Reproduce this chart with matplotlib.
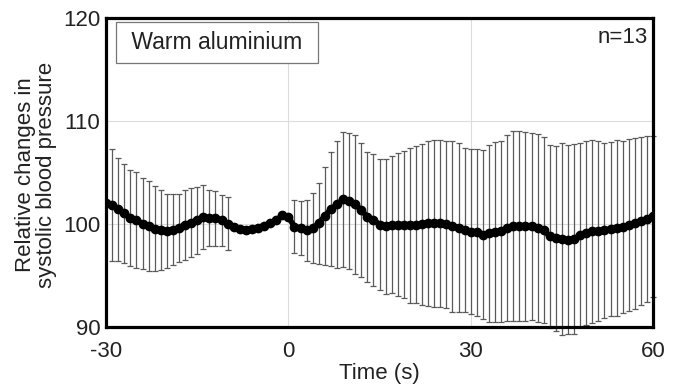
import numpy as np
import matplotlib.pyplot as plt

plt.rcParams['font.family'] = ['Liberation Sans', 'DejaVu Sans']
plt.rcParams['axes.unicode_minus'] = False
plt.rcParams['text.color'] = '#222222'
plt.rcParams['xtick.color'] = '#222222'
plt.rcParams['ytick.color'] = '#222222'
plt.rcParams['axes.labelcolor'] = '#222222'

# time points (s) of the mean curve
time = np.arange(-30, 61)
mean_bp = [
    102.0, 101.85, 101.45, 101.05, 100.6, 100.4, 100.05, 99.8, 99.55, 99.45,
    99.3, 99.45, 99.65, 99.95, 100.15, 100.35, 100.65, 100.6, 100.55, 100.35,
    100.05, 99.75, 99.5, 99.45, 99.55, 99.65, 99.85, 100.1, 100.35, 100.85,
    100.7, 99.75, 99.6, 99.4, 99.6, 100.06, 100.8, 101.45, 101.9, 102.4,
    102.25, 101.9, 101.35, 100.7, 100.4, 99.95, 99.8, 99.95, 99.93, 99.95,
    99.86, 99.94, 99.96, 100.07, 100.07, 100.07, 99.96, 99.8, 99.66, 99.4,
    99.25, 99.2, 98.96, 99.1, 99.2, 99.3, 99.63, 99.84, 99.84, 99.8,
    99.77, 99.63, 99.42, 98.8, 98.6, 98.55, 98.5, 98.55, 98.95, 99.15,
    99.3, 99.35, 99.4, 99.53, 99.6, 99.7, 99.9, 100.1, 100.3, 100.5,
    100.75,
]

# standard deviation at the points that carry an error bar
sd_before = [5.4, 5.0, 4.8, 4.65, 4.7, 4.45, 4.37, 4.1, 3.9, 3.6,
             3.45, 3.3, 3.4, 3.35, 3.25, 3.1, 2.75, 2.65, 2.5, 2.55]   # -29..-10
sd_after = [2.55, 2.6, 2.98, 3.37, 3.94, 4.77, 5.54, 6.2, 6.58, 6.63,
            6.72, 6.47, 6.3, 6.41, 6.34, 6.56, 6.64, 6.93, 7.16, 7.5,
            7.64, 7.82, 8.03, 8.1, 8.1, 8.15, 8.3, 8.17, 7.95, 8.0,
            8.1, 8.2, 8.58, 8.75, 8.8, 9.0, 9.22, 9.22, 9.17, 9.09,
            9.1, 9.0, 8.9, 9.0, 9.3, 9.2, 9.2, 8.95, 8.95, 8.9,
            8.75, 8.5, 8.46, 8.55, 8.33, 8.33, 8.3, 8.17, 8.04, 7.8]     # 1..60
t_before = np.arange(-29, -9)
t_after = np.arange(1, 61)

mean_bp = np.array(mean_bp)
t_err = np.concatenate([t_before, t_after])
sd = np.array(sd_before + sd_after)
m_err = mean_bp[np.searchsorted(time, t_err)]

fig = plt.figure(figsize=(6.81, 3.88), dpi=100)
ax = fig.add_axes([0.1557, 0.157, 0.8033, 0.7966])

ax.errorbar(t_err, m_err, yerr=sd, fmt='none', ecolor='#5a5a5a',
            elinewidth=0.9, capsize=2.2, capthick=0.9, clip_on=False, zorder=2)
ax.plot(time, mean_bp, 'o-', color='black', markersize=6, linewidth=4, zorder=3)

ax.set_xlim(-30, 60)
ax.set_ylim(90, 120)
ax.set_xticks([-30, 0, 30, 60])
ax.set_yticks([90, 100, 110, 120])
ax.grid(color='#dcdcdc', linewidth=0.8)
ax.set_axisbelow(True)
ax.tick_params(length=0, labelsize=16)
ax.tick_params(axis='x', pad=10)
ax.tick_params(axis='y', pad=4)
for s in ax.spines.values():
    s.set_linewidth(2.3)

ax.set_xlabel('Time (s)', fontsize=16, labelpad=1)
fig.text(36 / 681, 0.55, 'Relative changes in\nsystolic blood pressure', fontsize=16,
         rotation=90, ha='center', va='center', linespacing=0.98, multialignment='center')

ax.text(0.035, 0.921, ' Warm aluminium ', transform=ax.transAxes, fontsize=16.5,
        va='center', ha='left',
        bbox=dict(boxstyle='square,pad=0.4', facecolor='white', edgecolor='#777777', linewidth=0.9))
ax.text(0.99, 0.938, 'n=13', transform=ax.transAxes, fontsize=16,
        va='center', ha='right')

fig.savefig('out.png', dpi=100)
